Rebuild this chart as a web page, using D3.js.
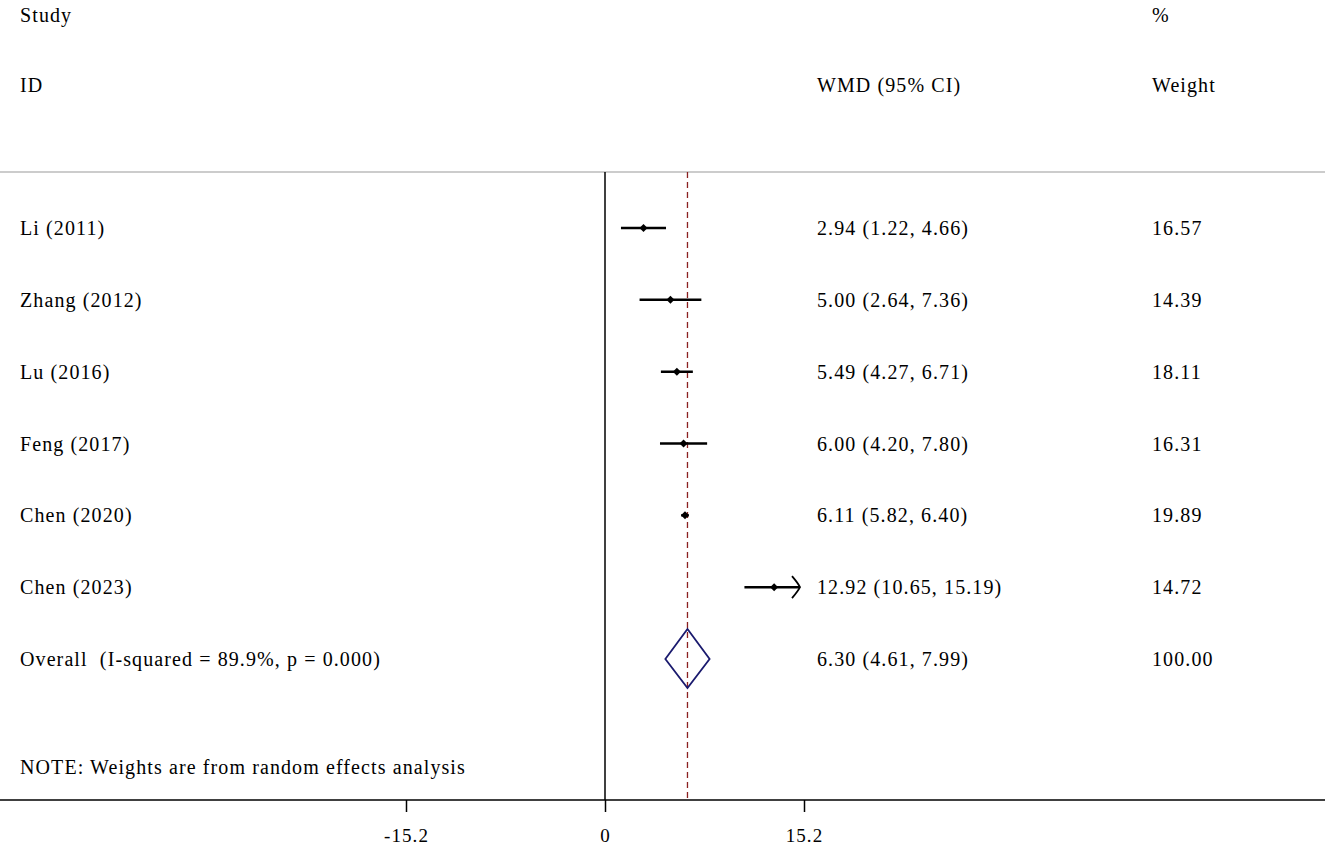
<!DOCTYPE html>
<html><head><meta charset="utf-8">
<script src="https://cdn.jsdelivr.net/npm/d3@7"></script>
<style>body{margin:0;background:#fff}text{font-family:"Liberation Serif","Times New Roman",serif;font-size:20px;letter-spacing:1.1px;fill:#000;white-space:pre}</style>
</head><body><svg id="c" width="1325" height="846"></svg>
<script>
const studies=["Li (2011)","Zhang (2012)","Lu (2016)","Feng (2017)","Chen (2020)","Chen (2023)"];
const est=[2.94,5.00,5.49,6.00,6.11,12.92];
const lo=[1.22,2.64,4.27,4.20,5.82,10.65];
const hi=[4.66,7.36,6.71,7.80,6.40,15.19];
const weights=["16.57","14.39","18.11","16.31","19.89","14.72"];
const overall={label:"Overall  (I-squared = 89.9%, p = 0.000)",est:6.30,lo:4.61,hi:7.99,w:"100.00"};
const ticks=[-15.2,0,15.2];
const xMax=15.2;

const svg=d3.select("#c");
const x=d3.scaleLinear().domain([-15.2,15.2]).range([406,804]);
const rows=[...studies,overall.label];
const y=d3.scalePoint().domain(rows).range([228,659]);
const clip=v=>Math.min(v,xMax);

svg.append("text").attr("x",20).attr("y",22).text("Study");
svg.append("text").attr("x",20).attr("y",92).text("ID");
svg.append("text").attr("x",1152).attr("y",22).text("%");
svg.append("text").attr("x",817).attr("y",92).text("WMD (95% CI)");
svg.append("text").attr("x",1152).attr("y",92).text("Weight");
svg.append("line").attr("x1",0).attr("x2",1325).attr("y1",172).attr("y2",172).attr("stroke","#bbb").attr("stroke-width",1.5);

svg.append("line").attr("x1",x(0)).attr("x2",x(0)).attr("y1",172).attr("y2",800).attr("stroke","#000").attr("stroke-width",1.5);
svg.append("line").attr("x1",x(overall.est)).attr("x2",x(overall.est)).attr("y1",172).attr("y2",800).attr("stroke","#8b2020").attr("stroke-width",1.3).attr("stroke-dasharray","6,4");

studies.forEach((s,i)=>{
  const yy=y(s);
  svg.append("text").attr("x",20).attr("y",yy+7).text(s);
  svg.append("text").attr("x",817).attr("y",yy+7).text(`${est[i].toFixed(2)} (${lo[i].toFixed(2)}, ${hi[i].toFixed(2)})`);
  svg.append("text").attr("x",1152).attr("y",yy+7).text(weights[i]);
  svg.append("line").attr("x1",x(lo[i])).attr("x2",x(clip(hi[i]))-(hi[i]>=xMax-0.1?4:0)).attr("y1",yy).attr("y2",yy).attr("stroke","#000").attr("stroke-width",2.5);
  const cx=x(est[i]);
  svg.append("path").attr("d",`M${cx-4},${yy}L${cx},${yy-4}L${cx+4},${yy}L${cx},${yy+4}Z`).attr("fill","#000");
  if(hi[i]>=xMax-0.1){
    const ax=x(xMax)-4;
    svg.append("path").attr("d",`M${ax-8},${yy-11}Q${ax-2},${yy-4} ${ax},${yy}Q${ax-2},${yy+4} ${ax-8},${yy+11}`).attr("fill","none").attr("stroke","#000").attr("stroke-width",1.8);
  }
});
const oy=y(overall.label);
svg.append("text").attr("x",20).attr("y",oy+7).text(overall.label);
svg.append("text").attr("x",817).attr("y",oy+7).text(`${overall.est.toFixed(2)} (${overall.lo.toFixed(2)}, ${overall.hi.toFixed(2)})`);
svg.append("text").attr("x",1152).attr("y",oy+7).text(overall.w);
svg.append("path").attr("d",`M${x(overall.lo)},${oy}L${x(overall.est)},${oy-30}L${x(overall.hi)},${oy}L${x(overall.est)},${oy+29}Z`).attr("fill","none").attr("stroke","#1a1a6e").attr("stroke-width",1.8);

svg.append("text").attr("x",20).attr("y",774).text("NOTE: Weights are from random effects analysis");

svg.append("line").attr("x1",0).attr("x2",1325).attr("y1",800).attr("y2",800).attr("stroke","#000").attr("stroke-width",1.5);
const ax=svg.append("g").attr("transform","translate(0,800)").call(d3.axisBottom(x).tickValues(ticks).tickSize(12).tickFormat(d=>d===0?"0":d.toFixed(1)));
ax.select(".domain").remove();
ax.selectAll("line").attr("stroke","#000").attr("stroke-width",1.5);
ax.selectAll("text").attr("dy","1.4em").style("font-size","19px").style("font-family","Liberation Serif");
</script></body></html>
